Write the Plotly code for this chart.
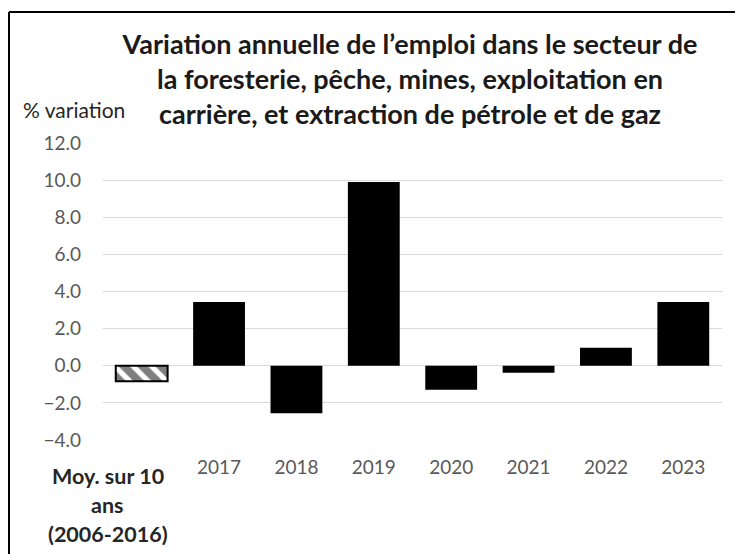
import plotly.graph_objects as go

# Données
categories = ["Moy. sur 10 ans (2006-2016)", "2017", "2018", "2019", "2020", "2021", "2022", "2023"]
variations = [-0.84, 3.44, -2.56, 9.9, -1.29, -0.38, 0.97, 3.44]
label_moyenne = ["Moy. sur 10", "ans", "(2006-2016)"]
tick_labels = ["", "2017", "2018", "2019", "2020", "2021", "2022", "2023"]
y_ticks = [-4, -2, 0, 2, 4, 6, 8, 10, 12]

# la page ajoute une marge de 8 px autour de la figure
W, H = 735, 546
ml, mr, mt, mb = 95, 21, 135, 114
pw, ph = W - ml - mr, H - mt - mb

police = "Lato, Carlito, Calibri, sans-serif"
gris = "#595959"

fig = go.Figure()

# premier bâton hachuré (moyenne), les autres en noir plein
fig.add_trace(go.Bar(
    x=categories[:1], y=variations[:1],
    marker=dict(
        color="white",
        line=dict(color="black", width=2),
        pattern=dict(shape="\\", fgcolor="black", bgcolor="white", size=13, solidity=0.6),
    ),
    width=0.67,
))
fig.add_trace(go.Bar(
    x=categories[1:], y=variations[1:],
    marker=dict(color="black", line=dict(width=0)),
    width=0.67,
))

# étiquette de la moyenne sur trois lignes
for i, ligne in enumerate(label_moyenne):
    fig.add_annotation(
        x=categories[0], y=0, xref="x", yref="paper",
        text="<b>" + ligne + "</b>", showarrow=False,
        yanchor="middle", yshift=-36 - 29 * i, xshift=-34,
        font=dict(family=police, size=21.5, color="#262626"),
    )

# titre de l'axe y
fig.add_annotation(
    x=(13 - ml) / pw, y=(H - mb - 101) / ph, xref="paper", yref="paper",
    text="% variation", showarrow=False, xanchor="left", yanchor="middle",
    font=dict(family=police, size=21, color="#262626"),
)

# cadre (haut et gauche)
x0 = (1 - ml) / pw
y0 = (H - mb - 4) / ph
fig.add_shape(type="line", xref="paper", yref="paper", x0=x0, x1=(W - ml) / pw, y0=y0, y1=y0,
              line=dict(color="black", width=2))
fig.add_shape(type="line", xref="paper", yref="paper", x0=x0, x1=x0, y0=y0, y1=-mb / ph,
              line=dict(color="black", width=2))

fig.update_layout(
    width=W, height=H,
    margin=dict(l=ml, r=mr, t=mt, b=mb),
    paper_bgcolor="white", plot_bgcolor="white",
    showlegend=False,
    barmode="overlay",
    title=dict(
        text="<b>Variation annuelle de l’emploi dans le secteur de<br>"
             "la foresterie, pêche, mines, exploitation en<br>"
             "carrière, et extraction de pétrole et de gaz</b>",
        x=402 / W, xanchor="center", y=1 - 46 / H, yanchor="middle",
        font=dict(family=police, size=27, color="#1a1a1a"),
    ),
    xaxis=dict(
        range=[-0.5, len(categories) - 0.5],
        tickvals=categories, ticktext=tick_labels,
        showgrid=False, showline=False, ticks="",
        tickfont=dict(family=police, size=19, color=gris),
        ticklabelstandoff=14,
    ),
    yaxis=dict(
        range=[-4, 12], tickvals=y_ticks,
        tickformat=".1f",
        showgrid=True, gridcolor="#d9d9d9", gridwidth=1,
        zeroline=False, showline=False, ticks="",
        tickfont=dict(family=police, size=19, color=gris),
        ticklabelstandoff=21,
    ),
)

fig.write_html("out.html")
